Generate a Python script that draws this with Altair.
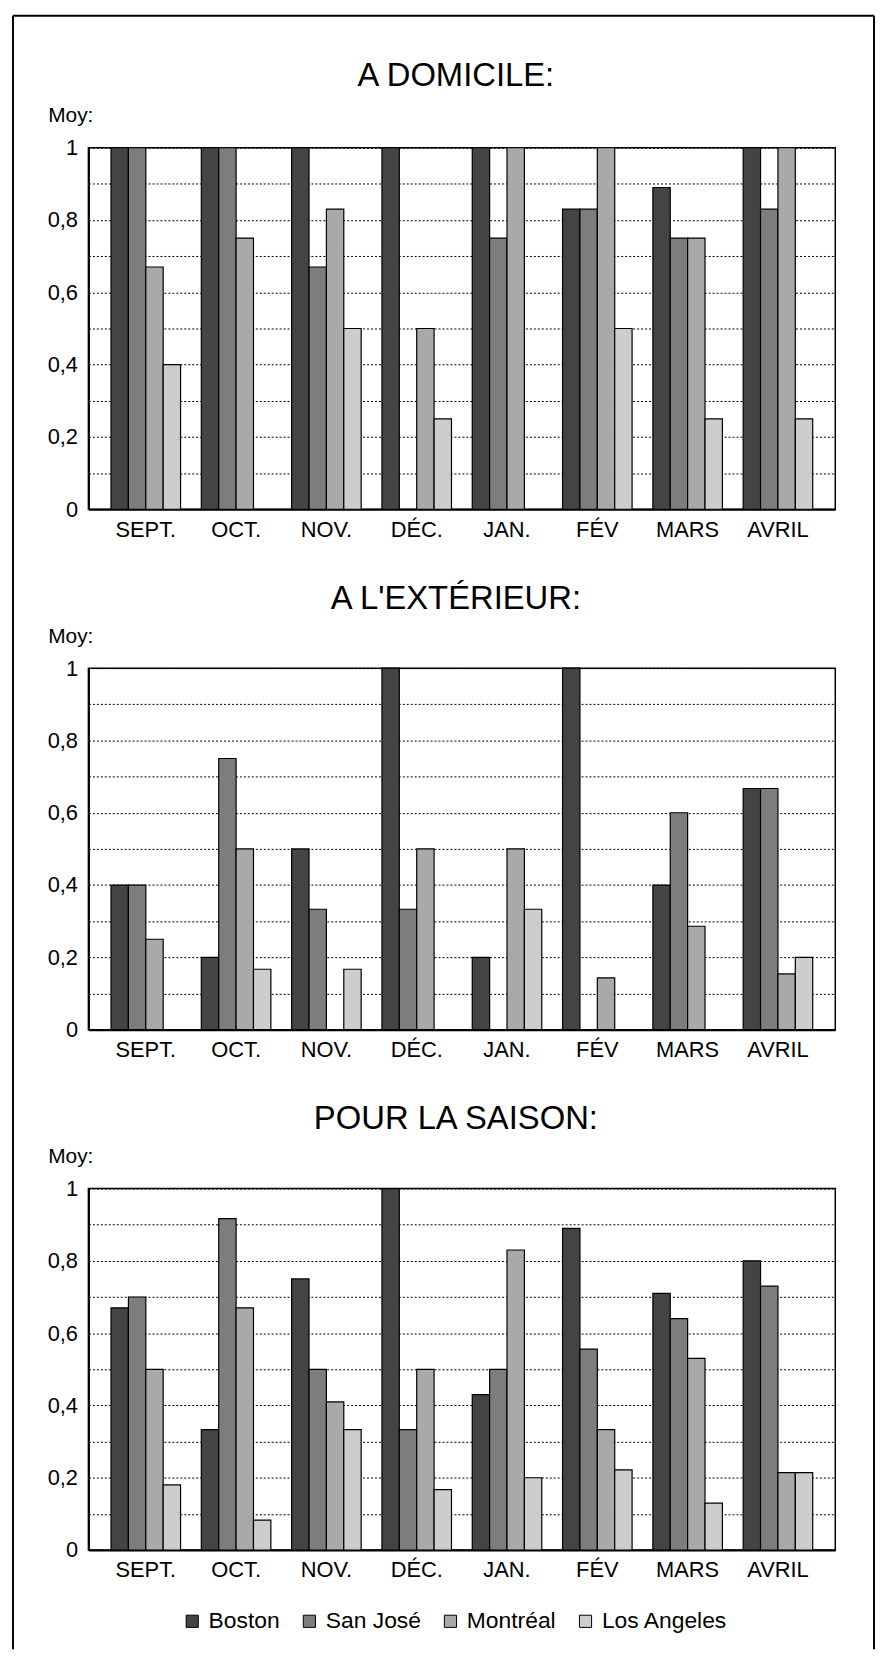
import altair as alt
import pandas as pd

FONT = "Liberation Sans"

months = ["SEPT.", "OCT.", "NOV.", "DÉC.", "JAN.", "FÉV", "MARS", "AVRIL"]
cities = ["Boston", "San José", "Montréal", "Los Angeles"]
city_colors = ["#444444", "#7d7d7d", "#a9a9a9", "#cdcdcd"]

# A DOMICILE
dom_boston = [1.0, 1.0, 1.0, 1.0, 1.0, 0.83, 0.89, 1.0]
dom_sanjose = [1.0, 1.0, 0.67, 0.0, 0.75, 0.83, 0.75, 0.83]
dom_montreal = [0.67, 0.75, 0.83, 0.5, 1.0, 1.0, 0.75, 1.0]
dom_la = [0.4, 0.0, 0.5, 0.25, 0.0, 0.5, 0.25, 0.25]

# A L'EXTERIEUR
ext_boston = [0.4, 0.2, 0.5, 1.0, 0.2, 1.0, 0.4, 0.667]
ext_sanjose = [0.4, 0.75, 0.333, 0.333, 0.0, 0.0, 0.6, 0.667]
ext_montreal = [0.25, 0.5, 0.0, 0.5, 0.5, 0.143, 0.286, 0.154]
ext_la = [0.0, 0.167, 0.167, 0.0, 0.333, 0.0, 0.0, 0.2]

# POUR LA SAISON
sai_boston = [0.67, 0.333, 0.75, 1.0, 0.43, 0.89, 0.71, 0.8]
sai_sanjose = [0.7, 0.917, 0.5, 0.333, 0.5, 0.556, 0.64, 0.73]
sai_montreal = [0.5, 0.67, 0.41, 0.5, 0.83, 0.333, 0.53, 0.214]
sai_la = [0.18, 0.083, 0.333, 0.167, 0.2, 0.222, 0.13, 0.214]

y_values = [i / 10 for i in range(11)]

W, H = 752, 364


def table(series):
    rows = []
    for city, vals in zip(cities, series):
        for m, v in zip(months, vals):
            rows.append({"mois": m, "ville": city, "moy": v})
    return pd.DataFrame(rows)


def panel(df, title, legend=None, border=False):
    bars = alt.Chart(df).transform_filter("datum.moy > 0").mark_bar(
        stroke="black", strokeWidth=1.2, opacity=1
    ).encode(
        x=alt.X(
            "mois:N", sort=months,
            scale=alt.Scale(domain=months, paddingInner=0.23, paddingOuter=0.25),
            axis=alt.Axis(title=None, labelAngle=0, ticks=False, grid=False,
                          domain=True, domainColor="black", domainWidth=2,
                          labelFontSize=22, labelPadding=10, labelColor="black",
                          labelFont=FONT),
        ),
        xOffset=alt.XOffset("ville:N", sort=cities,
                            scale=alt.Scale(domain=cities, paddingInner=0, paddingOuter=0)),
        y=alt.Y(
            "moy:Q",
            scale=alt.Scale(domain=[0, 1], nice=False),
            axis=alt.Axis(
                title="Moy:", titleAngle=0, titleX=-41, titleY=-32,
                titleAlign="left", titleBaseline="middle", titleFontSize=21,
                titleFontWeight="normal", titleColor="black", titleFont=FONT,
                values=y_values,
                labelExpr="round(datum.value*10) % 2 == 0 ? replace(format(datum.value, '.1~f'), '.', ',') : ''",
                ticks=False, labelPadding=11, labelFontSize=22, labelColor="black",
                labelFont=FONT,
                grid=True, gridDash=[2, 2], gridColor="black", gridWidth=1, gridOpacity=1,
                domain=True, domainColor="black", domainWidth=2,
            ),
        ),
        color=alt.Color("ville:N", sort=cities,
                        scale=alt.Scale(domain=cities, range=city_colors),
                        legend=legend),
    )
    layers = [bars]
    offset = 10
    if border:
        one = pd.DataFrame({"k": [0]})
        left = alt.Chart(one).mark_rule(color="black", strokeWidth=2).encode(
            x=alt.value(-76), y=alt.value(-133), y2=alt.value(1512))
        right = alt.Chart(one).mark_rule(color="black", strokeWidth=2).encode(
            x=alt.value(791), y=alt.value(-133), y2=alt.value(1512))
        top = alt.Chart(one).mark_rule(color="black", strokeWidth=2).encode(
            x=alt.value(-76), x2=alt.value(791), y=alt.value(-133))
        layers += [left, right, top]
        offset = -79
    ch = alt.layer(*layers).properties(
        width=W, height=H,
        title=alt.TitleParams(title, fontSize=33, fontWeight="normal", font=FONT,
                              color="black", anchor="middle", frame="group",
                              offset=offset, dx=-6),
    )
    return ch


legend = alt.Legend(
    orient="none", legendX=93, legendY=424, direction="horizontal", title=None,
    symbolType="square", symbolSize=150, symbolStrokeColor="black",
    symbolStrokeWidth=1, symbolOpacity=1, labelFontSize=23, labelFont=FONT,
    labelColor="black", labelOffset=5, columnPadding=18, columns=4,
)

p1 = panel(table([dom_boston, dom_sanjose, dom_montreal, dom_la]), "A DOMICILE:", border=True)
p2 = panel(table([ext_boston, ext_sanjose, ext_montreal, ext_la]), "A L'EXTÉRIEUR:")
p3 = panel(table([sai_boston, sai_sanjose, sai_montreal, sai_la]), "POUR LA SAISON:", legend=legend)

chart = alt.vconcat(p1, p2, p3, spacing=160, bounds="flush").resolve_scale(
    color="independent"
).resolve_legend(color="independent").properties(
    padding={"left": 3, "top": 0, "right": 0, "bottom": 0},
    background="white",
).configure(font=FONT).configure_view(stroke="black", strokeWidth=1.5)

chart.save("out.html", embed_options={"renderer": "svg", "actions": False})
